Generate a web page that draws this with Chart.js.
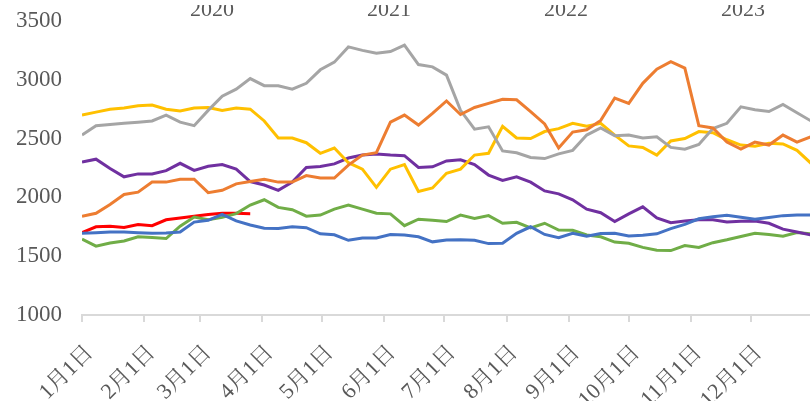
<!DOCTYPE html>
<html>
<head>
<meta charset="utf-8">
<script src="https://cdn.jsdelivr.net/npm/chart.js@4"></script>
<style>
  body { margin: 0; background: #fff; }
  canvas { display: block; }
</style>
</head>
<body>
<canvas id="chart" width="810" height="401"></canvas>
<script>
// weekly points, day 0 = 1月1日
const week_days = [0, 7, 14, 21, 28, 35, 42, 49, 56, 63, 70, 77, 84, 91, 98, 105, 112, 119, 126,
    133, 140, 147, 154, 161, 168, 175, 182, 189, 196, 203, 210, 217, 224, 231, 238, 245, 252,
    259, 266, 273, 280, 287, 294, 301, 308, 315, 322, 329, 336, 343, 350, 357, 364];

const month_days = [0, 31, 59, 90, 120, 151, 181, 212, 243, 273, 304, 334];
const month_labels = ['1月1日', '2月1日', '3月1日', '4月1日', '5月1日', '6月1日',
    '7月1日', '8月1日', '9月1日', '10月1日', '11月1日', '12月1日'];

const years = ['2018', '2019', '2020', '2021', '2022', '2023', '2024'];

const values_2018 = [1695, 1700, 1705, 1705, 1700, 1695, 1697, 1705, 1790, 1805, 1855, 1800, 1765,
    1738, 1735, 1750, 1742, 1690, 1682, 1635, 1655, 1655, 1685, 1680, 1665, 1622, 1638, 1640,
    1635, 1607, 1610, 1695, 1750, 1685, 1657, 1695, 1670, 1692, 1695, 1672, 1678, 1690, 1735,
    1770, 1818, 1835, 1848, 1832, 1815, 1830, 1845, 1850, 1850];

const values_2019 = [1840, 1865, 1940, 2025, 2045, 2130, 2130, 2155, 2155, 2040, 2060, 2115, 2135,
    2155, 2130, 2130, 2185, 2165, 2165, 2275, 2360, 2380, 2640, 2700, 2615, 2715, 2820, 2705,
    2765, 2800, 2835, 2830, 2730, 2625, 2420, 2555, 2575, 2655, 2845, 2800, 2970, 3090, 3155,
    3100, 2610, 2590, 2470, 2410, 2470, 2445, 2530, 2470, 2515];

const values_2020 = [2530, 2610, 2620, 2630, 2640, 2650, 2700, 2640, 2610, 2740, 2860, 2920, 3010,
    2950, 2950, 2920, 2970, 3085, 3150, 3280, 3250, 3225, 3240, 3295, 3130, 3110, 3040, 2740,
    2580, 2600, 2395, 2380, 2340, 2330, 2370, 2400, 2530, 2590, 2525, 2530, 2505, 2515, 2425,
    2410, 2450, 2585, 2630, 2770, 2745, 2730, 2790, 2720, 2650];

const values_2021 = [2700, 2725, 2750, 2760, 2780, 2785, 2750, 2735, 2760, 2765, 2740, 2760, 2750,
    2650, 2505, 2505, 2465, 2375, 2420, 2295, 2240, 2085, 2240, 2280, 2050, 2080, 2205, 2240,
    2360, 2375, 2605, 2505, 2500, 2560, 2585, 2630, 2605, 2630, 2530, 2438, 2425, 2360, 2480,
    2500, 2560, 2550, 2490, 2445, 2435, 2460, 2455, 2400, 2290];

const values_2022 = [2300, 2325, 2245, 2175, 2200, 2200, 2228, 2290, 2230, 2265, 2280, 2240, 2135,
    2105, 2060, 2130, 2255, 2262, 2285, 2335, 2360, 2370, 2360, 2355, 2255, 2260, 2310, 2320,
    2280, 2190, 2145, 2175, 2130, 2055, 2030, 1980, 1900, 1870, 1795, 1860, 1920, 1825, 1785,
    1800, 1810, 1810, 1790, 1798, 1800, 1780, 1730, 1705, 1680];

const values_2023 = [1645, 1585, 1612, 1630, 1665, 1660, 1650, 1755, 1833, 1810, 1830, 1862, 1935,
    1980, 1915, 1895, 1840, 1850, 1900, 1935, 1900, 1865, 1860, 1760, 1815, 1805, 1795, 1850,
    1820, 1845, 1780, 1788, 1740, 1780, 1722, 1720, 1680, 1665, 1620, 1610, 1575, 1550, 1548,
    1590, 1575, 1615, 1640, 1668, 1695, 1685, 1670, 1702, 1690];

const values_2024 = [1700, 1750, 1755, 1745, 1770, 1760, 1810, 1825, 1840, 1855, 1865, 1865, 1862];

const all_values = [values_2018, values_2019, values_2020, values_2021, values_2022, values_2023, values_2024];
const colors = ['#4472C4', '#ED7D31', '#A5A5A5', '#FFC000', '#7030A0', '#70AD47', '#FF0000'];

// only part of the legend is visible at the top edge
const legend_series = [2, 3, 4, 5];

const text_color = '#595959';
const serif_font = '"Liberation Serif", "Noto Serif CJK SC", "Noto Sans CJK SC", serif';

const year_legend = {
    id: 'year_legend',
    afterDraw(chart) {
        const ctx = chart.ctx;
        ctx.save();
        ctx.beginPath();
        ctx.rect(0, 5, chart.width, 30);
        ctx.clip();
        ctx.font = '22px ' + serif_font;
        ctx.fillStyle = text_color;
        ctx.textAlign = 'center';
        ctx.textBaseline = 'alphabetic';
        legend_series.forEach((idx, i) => {
            ctx.fillText(chart.data.datasets[idx].label, 212 + 177 * i, 16);
        });
        ctx.restore();
    }
};

new Chart('chart', {
    type: 'line',
    data: {
        datasets: all_values.map((values, i) => ({
            label: years[i],
            data: values.map((v, j) => ({ x: week_days[j], y: v })),
            borderColor: colors[i],
            backgroundColor: colors[i],
            borderWidth: 3,
            pointRadius: 0,
            tension: 0,
            fill: false
        }))
    },
    options: {
        responsive: false,
        animation: false,
        layout: {
            padding: { top: 21, right: 0, bottom: 0, left: 0 }
        },
        scales: {
            x: {
                type: 'linear',
                min: 0,
                max: 363.5,
                afterBuildTicks: (axis) => {
                    axis.ticks = month_days.map(d => ({ value: d }));
                },
                afterFit: (axis) => {
                    axis.height = 86;
                },
                ticks: {
                    autoSkip: false,
                    maxRotation: 45,
                    minRotation: 45,
                    padding: 18,
                    labelOffset: 8,
                    color: text_color,
                    font: { family: serif_font, size: 22 },
                    callback: (value) => month_labels[month_days.indexOf(value)]
                },
                grid: {
                    display: true,
                    drawOnChartArea: false,
                    drawTicks: true,
                    tickLength: 7,
                    color: '#D9D9D9',
                    lineWidth: 2
                },
                border: {
                    display: true,
                    color: '#D9D9D9',
                    width: 2
                }
            },
            y: {
                min: 1000,
                max: 3500,
                afterFit: (axis) => {
                    axis.width = 82;
                    axis.paddingTop = 0;
                    axis.paddingBottom = 0;
                },
                ticks: {
                    stepSize: 500,
                    padding: 20,
                    color: text_color,
                    font: { family: serif_font, size: 23 },
                    callback: (value) => String(value)
                },
                grid: {
                    display: false,
                    drawTicks: false
                },
                border: {
                    display: false
                }
            }
        },
        plugins: {
            legend: { display: false },
            tooltip: { enabled: false }
        }
    },
    plugins: [year_legend]
});
</script>
</body>
</html>
